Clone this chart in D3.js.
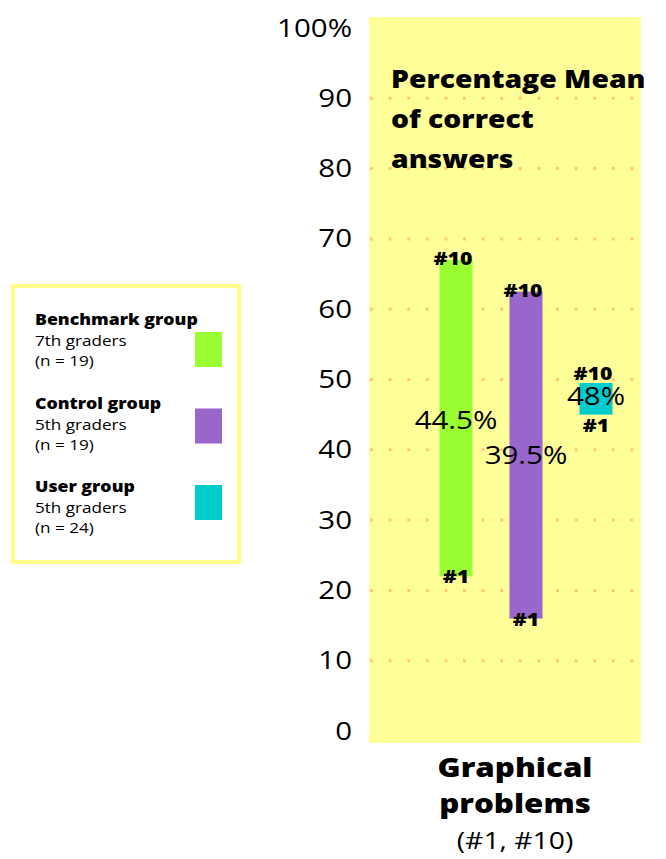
<!DOCTYPE html>
<html>
<head>
<meta charset="utf-8">
<script src="https://cdn.jsdelivr.net/npm/d3@7"></script>
<style>
  html, body { margin: 0; padding: 0; background: #fff; }
  svg { display: block; }
  text { font-family: "Open Sans", "Noto Sans", sans-serif; fill: #000; }
</style>
</head>
<body>
<script>
// Groups and their results on the two graphical problems
const groups      = ["Benchmark group", "Control group", "User group"];
const groupGrades = ["7th graders", "5th graders", "5th graders"];
const groupSizes  = ["(n = 19)", "(n = 19)", "(n = 24)"];
const groupColors = ["#99ff33", "#9966cc", "#00cccc"];
const problem1    = [22, 16, 45];      // % correct, problem #1
const problem10   = [67, 62.5, 49.5];  // % correct, problem #10
const meanCorrect = [44.5, 39.5, 48];  // mean % correct
const meanLabels  = ["44.5%", "39.5%", "48%"];

// Axis ticks and gridlines
const yTicks      = [0, 10, 20, 30, 40, 50, 60, 70, 80, 90, 100];
const yTickLabels = ["0", "10", "20", "30", "40", "50", "60", "70", "80", "90", "100%"];
const gridValues  = [10, 20, 30, 40, 50, 60, 70, 80, 90];

const titleLines  = ["Percentage Mean", "of correct", "answers"];
const xLabelLines = ["Graphical", "problems", "(#1, #10)"];

const W = 666, H = 859;
const SX = 1.18;            // horizontal stretch applied to all lettering
const panel = { left: 369, right: 641, top: 17, bottom: 743 };

const svg = d3.select("body").append("svg")
  .attr("width", W).attr("height", H);

const y = d3.scaleLinear().domain([0, 100]).range([731, 28]);
const x = d3.scalePoint().domain(groups).range([456, 596]);
const barW = 33;

// stretched text helper
function label(sel, tx, ty, str, size, weight, anchor) {
  return sel.append("text")
    .attr("transform", `translate(${tx},${ty}) scale(${SX},1)`)
    .attr("font-size", size)
    .attr("font-weight", weight)
    .attr("text-anchor", anchor)
    .text(str);
}

// plotting panel
svg.append("rect")
  .attr("x", panel.left).attr("y", panel.top)
  .attr("width", panel.right - panel.left)
  .attr("height", panel.bottom - panel.top)
  .attr("fill", "#ffff99");

// dotted gridlines
svg.append("g").selectAll("line")
  .data(gridValues)
  .join("line")
  .attr("x1", panel.left + 1).attr("x2", panel.right)
  .attr("y1", d => y(d)).attr("y2", d => y(d))
  .attr("stroke", "#ffc680")
  .attr("stroke-width", 3)
  .attr("stroke-dasharray", "3,15.6");

// y axis labels
const pad = 17;
const yAxis = svg.append("g")
  .attr("transform", `translate(${panel.left},0)`)
  .call(d3.axisLeft(y).tickValues(yTicks).tickSize(0).tickPadding(pad)
    .tickFormat((d, i) => yTickLabels[i]));
yAxis.select(".domain").remove();
yAxis.attr("font-family", null).attr("font-size", null);
yAxis.selectAll("text")
  .attr("font-size", 25)
  .attr("fill", "#111")
  .attr("x", -pad / SX)
  .attr("transform", `scale(${SX},1)`);

// range bars (#1 .. #10)
const bars = groups.map((g, i) => ({
  g, i, p1: problem1[i], p10: problem10[i], mean: meanCorrect[i],
  color: groupColors[i], meanLabel: meanLabels[i]
}));

svg.append("g").selectAll("rect")
  .data(bars)
  .join("rect")
  .attr("x", d => x(d.g) - barW / 2)
  .attr("width", barW)
  .attr("y", d => y(d.p10))
  .attr("height", d => y(d.p1) - y(d.p10))
  .attr("fill", d => d.color);

// end labels and mean values
const lab = svg.append("g");
bars.forEach(d => {
  const cx = x(d.g);
  const top = y(d.p10), bot = y(d.p1);
  const short = (bot - top) < 50;
  const topY = short ? top - 3 : top + 5;
  const botY = short ? bot + 17 : bot + 7;
  label(lab, cx - 3, topY, "#10", 18, 800, "middle");
  label(lab, cx, botY, "#1", 18, 800, "middle");
  label(lab, cx, y(d.mean) + 11, d.meanLabel, 25, 400, "middle");
});

// chart title inside the panel
titleLines.forEach((t, i) => {
  label(svg, 391, 88 + i * 40, t, 24, 800, "start");
});

// category label below the panel
const xLabelBase = [777, 813, 849];
xLabelLines.forEach((t, i) => {
  label(svg, 515, xLabelBase[i], t, i < 2 ? 26.5 : 24, i < 2 ? 800 : 400, "middle");
});

// legend
const lg = svg.append("g");
lg.append("rect")
  .attr("x", 13).attr("y", 286).attr("width", 226).attr("height", 276)
  .attr("fill", "#fff")
  .attr("stroke", "#ffff88")
  .attr("stroke-width", 4);

groups.forEach((g, i) => {
  const base = 325 + i * 83.5;
  label(lg, 35, base, g, 15, 800, "start");
  label(lg, 35, base + 21, groupGrades[i], 14.5, 400, "start");
  label(lg, 35, base + 41, groupSizes[i], 14.5, 400, "start");
  lg.append("rect")
    .attr("x", 195).attr("y", 332 + i * 76.5)
    .attr("width", 27).attr("height", 35)
    .attr("fill", groupColors[i]);
});
</script>
</body>
</html>
